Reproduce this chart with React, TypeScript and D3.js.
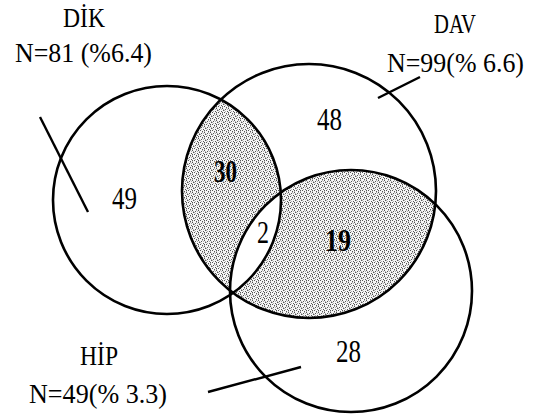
import React from 'react';
import * as d3 from 'd3';

// sets: name, N, percent label
const setNames = ['DİK', 'DAV', 'HİP'];
const setCounts = [81, 99, 49];
const setPercents = ['(%6.4)', '(% 6.6)', '(% 3.3)'];

// region counts
const regionLabels = ['DİK', 'DAV', 'HİP', 'DİK∩DAV', 'DAV∩HİP', 'DİK∩DAV∩HİP'];
const regionCounts = [49, 48, 28, 30, 19, 2];

// layout of the venn (pixel space)
const circles = [
  { cx: 167, cy: 200, r: 114 },
  { cx: 309, cy: 191, r: 127 },
  { cx: 351, cy: 291, r: 121 },
];
const nameLayout = [
  { x: 63, y: 27, w: 42, nx: 15, ny: 62, nw: 137 },
  { x: 434, y: 33, w: 42, nx: 387, ny: 72, nw: 137 },
  { x: 80, y: 365, w: 38, nx: 29, ny: 403, nw: 138 },
];
const leaders: [number, number][][] = [
  [[40, 117], [88, 212]],
  [[420, 77], [378, 98]],
  [[208, 392], [301, 367]],
];
const regionLayout = [
  { x: 112, y: 209, w: 25, bold: false },
  { x: 317, y: 130, w: 25, bold: false },
  { x: 336, y: 362, w: 25, bold: false },
  { x: 214, y: 182, w: 23, bold: true },
  { x: 325, y: 251, w: 26, bold: true },
  { x: 257, y: 243, w: 12, bold: false },
];

// dither pixels for the grey screen (6x6 tile), style only
const ditherDark = [[0, 0], [3, 1], [1, 2], [5, 3], [2, 4], [4, 5], [0, 4]];
const ditherMid = [[4, 0], [1, 1], [3, 3], [5, 1], [0, 5], [2, 2]];

const font = '"Liberation Serif", "Times New Roman", serif';

export default function App() {
  const width = 544;
  const height = 419;
  const line = d3.line();
  const [dik, dav, hip] = circles;

  return (
    <div style={{ position: 'absolute', left: 0, top: 0 }}>
      <svg width={width} height={height} viewBox={`0 0 ${width} ${height}`}>
        <defs>
          <pattern id="dither" width="6" height="6" patternUnits="userSpaceOnUse">
            <rect width="6" height="6" fill="#f6f6f6" />
            {ditherDark.map(([x, y], i) => (
              <rect key={'d' + i} x={x} y={y} width="1" height="1" fill="#555" />
            ))}
            {ditherMid.map(([x, y], i) => (
              <rect key={'m' + i} x={x} y={y} width="1" height="1" fill="#b0b0b0" />
            ))}
          </pattern>
          <clipPath id="clipDav">
            <circle cx={dav.cx} cy={dav.cy} r={dav.r} />
          </clipPath>
          <clipPath id="clipHip">
            <circle cx={hip.cx} cy={hip.cy} r={hip.r} />
          </clipPath>
        </defs>
        <rect width={width} height={height} fill="#fff" />

        {/* shaded pairwise regions */}
        <g clipPath="url(#clipDav)">
          <circle cx={dik.cx} cy={dik.cy} r={dik.r} fill="url(#dither)" />
          <circle cx={hip.cx} cy={hip.cy} r={hip.r} fill="url(#dither)" />
        </g>
        {/* triple region left white */}
        <g clipPath="url(#clipHip)">
          <circle cx={dik.cx} cy={dik.cy} r={dik.r} fill="#fff" />
        </g>

        {circles.map((c, i) => (
          <circle key={i} cx={c.cx} cy={c.cy} r={c.r} fill="none" stroke="#000" strokeWidth={2.6} />
        ))}

        {leaders.map((l, i) => (
          <path key={i} d={line(l) || ''} fill="none" stroke="#000" strokeWidth={2.4} />
        ))}

        {setNames.map((name, i) => {
          const p = nameLayout[i];
          return (
            <g key={name} fontFamily={font} fontSize={27} fill="#000">
              <text x={p.x} y={p.y} textLength={p.w} lengthAdjust="spacingAndGlyphs">
                {name}
              </text>
              <text x={p.nx} y={p.ny} textLength={p.nw} lengthAdjust="spacingAndGlyphs">
                {`N=${setCounts[i]}${i === 0 ? ' ' : ''}${setPercents[i]}`}
              </text>
            </g>
          );
        })}

        {regionCounts.map((v, i) => {
          const p = regionLayout[i];
          return (
            <text
              key={regionLabels[i]}
              x={p.x}
              y={p.y}
              fontFamily={font}
              fontSize={31}
              fontWeight={p.bold ? 'bold' : 'normal'}
              textLength={p.w}
              lengthAdjust="spacingAndGlyphs"
              fill="#000"
            >
              {v}
            </text>
          );
        })}
      </svg>
    </div>
  );
}
